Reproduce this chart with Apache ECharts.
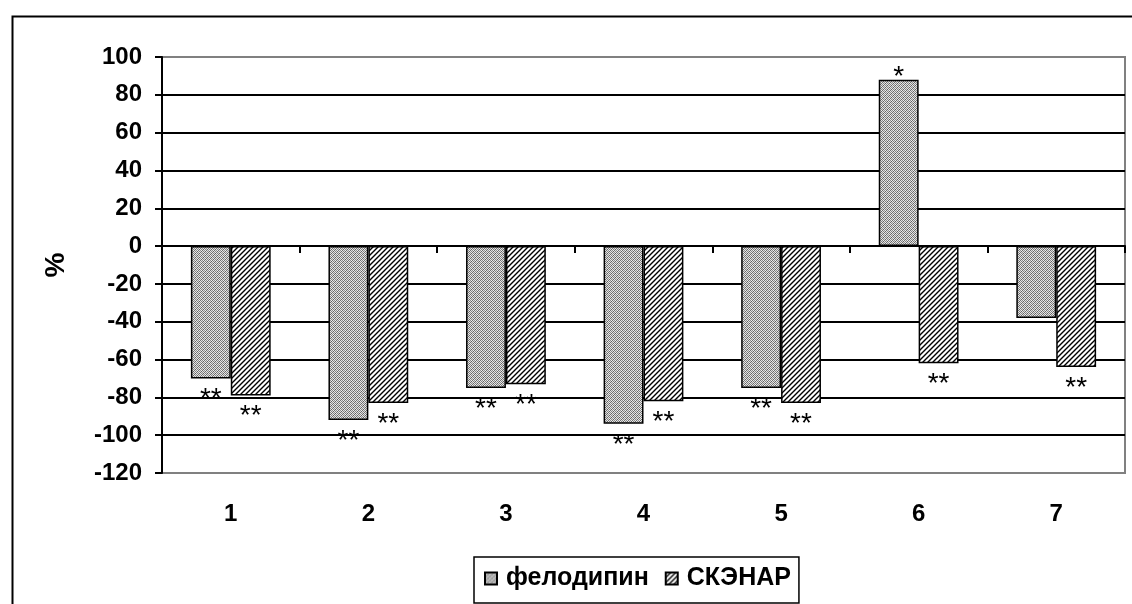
<!DOCTYPE html>
<html>
<head>
<meta charset="utf-8">
<script src="https://cdn.jsdelivr.net/npm/echarts@6/dist/echarts.min.js"></script>
<style>
html,body{margin:0;padding:0;background:#fff;}
#chart{width:1132px;height:604px;}
</style>
</head>
<body>
<div id="chart"></div>
<script>
// ---- data ----
var categories = ['1', '2', '3', '4', '5', '6', '7'];
var seriesNames = ['фелодипин', 'СКЭНАР'];
var felodipine = [-70, -92, -75, -94, -75, 88, -38];
var skenar = [-79, -83, -73, -82, -83, -62, -64];
var felodipineMarks = ['**', '**', '**', '**', '**', '*', ''];
var skenarMarks = ['**', '**', '**', '**', '**', '**', '**'];
var yTicks = { min: -120, max: 100, step: 20 };
var yAxisName = '%';

// ---- patterns ----
function dotPattern() {
  var c = document.createElement('canvas');
  c.width = 4; c.height = 4;
  var g = c.getContext('2d');
  var px = [
    ['#707070', '#e2e2e2', '#8a8a8a', '#ececec'],
    ['#eaeaea', '#808080', '#dadada', '#606060'],
    ['#909090', '#eeeeee', '#6c6c6c', '#dedede'],
    ['#dcdcdc', '#646464', '#e8e8e8', '#848484']
  ];
  for (var y = 0; y < 4; y++) for (var x = 0; x < 4; x++) {
    g.fillStyle = px[y][x];
    g.fillRect(x, y, 1, 1);
  }
  return c;
}
function hatchPattern() {
  var s = 5;
  var c = document.createElement('canvas');
  c.width = s; c.height = s;
  var g = c.getContext('2d');
  g.fillStyle = '#fff';
  g.fillRect(0, 0, s, s);
  g.strokeStyle = '#000';
  g.lineWidth = 1.4;
  g.beginPath();
  g.moveTo(-1, s + 1); g.lineTo(s + 1, -1);
  g.moveTo(-1, 1); g.lineTo(1, -1);
  g.moveTo(s - 1, s + 1); g.lineTo(s + 1, s - 1);
  g.stroke();
  return c;
}

var FONT = 'Liberation Sans, Arial, sans-serif';

function buildData(values) {
  return values.map(function (v) {
    return v > 0 ? { value: v, label: { position: 'top', distance: -12 } } : { value: v };
  });
}

function makeSeries(name, values, marks, pattern) {
  return {
    name: name,
    type: 'bar',
    xAxisIndex: 0,
    barGap: '0%',
    barCategoryGap: '42%',
    data: buildData(values),
    itemStyle: {
      color: { image: pattern, repeat: 'repeat' },
      borderColor: '#000',
      borderWidth: 1.5
    },
    label: {
      show: true,
      position: 'bottom',
      distance: 7,
      color: '#000',
      fontFamily: FONT,
      fontSize: 28,
      formatter: function (p) { return marks[p.dataIndex]; }
    }
  };
}

var chart = echarts.init(document.getElementById('chart'));
chart.setOption({
  animation: false,
  backgroundColor: '#fff',
  graphic: [{
    type: 'rect',
    left: 10, top: 14,
    shape: { width: 1200, height: 700 },
    style: { fill: 'none', stroke: '#000', lineWidth: 2 },
    z: -10
  }],
  grid: {
    left: 162, right: 7, top: 57, bottom: 131,
    show: true,
    borderColor: '#808080',
    borderWidth: 2,
    backgroundColor: 'transparent'
  },
  legend: {
    top: 557,
    left: 474,
    data: seriesNames,
    icon: 'rect',
    itemWidth: 12,
    itemHeight: 12,
    itemGap: 16,
    padding: [9, 8, 12, 10],
    borderColor: '#000',
    borderWidth: 1.5,
    textStyle: { fontFamily: FONT, fontWeight: 'bold', fontSize: 25, color: '#000', padding: [0, 0, 0, 4] }
  },
  xAxis: [{
    type: 'category',
    data: categories,
    axisLine: { onZero: true, lineStyle: { color: '#000', width: 2 } },
    axisTick: { show: true, length: 7, lineStyle: { color: '#000', width: 2 } },
    axisLabel: { show: false },
    splitLine: { show: false }
  }, {
    type: 'category',
    data: categories,
    position: 'bottom',
    axisLine: { show: false, onZero: false },
    axisTick: { show: false },
    axisLabel: { margin: 29, fontFamily: FONT, fontWeight: 'bold', fontSize: 24, color: '#000' },
    splitLine: { show: false }
  }],
  yAxis: {
    type: 'value',
    min: yTicks.min,
    max: yTicks.max,
    interval: yTicks.step,
    name: yAxisName,
    nameLocation: 'middle',
    nameGap: 92,
    nameRotate: 90,
    nameTextStyle: { fontFamily: FONT, fontWeight: 'bold', fontSize: 28, color: '#000' },
    axisLine: { show: true, lineStyle: { color: '#000', width: 2 } },
    axisTick: { show: true, length: 7, lineStyle: { color: '#000', width: 2 } },
    axisLabel: { margin: 20, fontFamily: FONT, fontWeight: 'bold', fontSize: 24, color: '#000' },
    splitLine: { show: true, showMinLine: false, showMaxLine: false, lineStyle: { color: '#000', width: 2 } }
  },
  series: [
    makeSeries(seriesNames[0], felodipine, felodipineMarks, dotPattern()),
    makeSeries(seriesNames[1], skenar, skenarMarks, hatchPattern())
  ]
});
</script>
</body>
</html>
